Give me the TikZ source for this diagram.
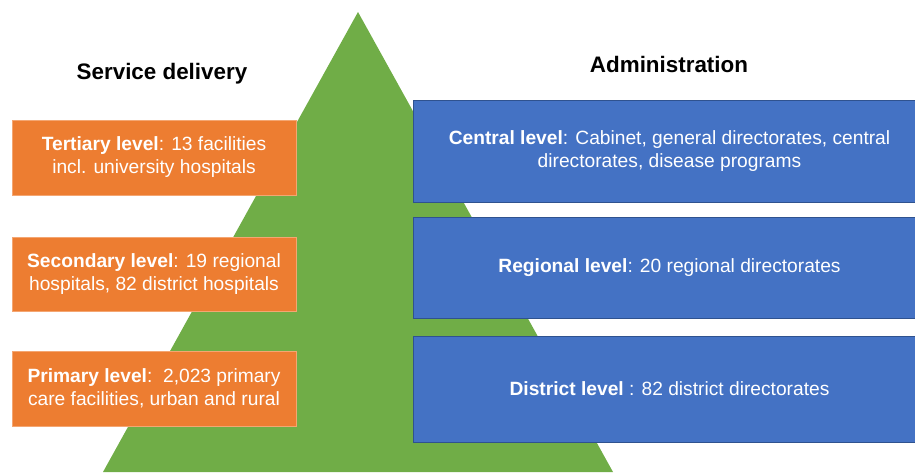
\documentclass[tikz,border=0pt]{standalone}
\usepackage{fontspec}
\setmainfont{Liberation Sans}
\definecolor{pyrgreen}{HTML}{70AD47}
\definecolor{svcorange}{HTML}{ED7D31}
\definecolor{svcedge}{HTML}{F4A672}
\definecolor{adminblue}{HTML}{4472C4}
\definecolor{adminedge}{HTML}{2F528F}
\begin{document}
\begin{tikzpicture}[x=1pt,y=-1pt,
  svcbox/.style={fill=svcorange, draw=svcedge, line width=0.8pt,
    minimum width=284pt, text=white, align=center, inner sep=0pt,
    font=\fontsize{19.2}{23}\selectfont},
  admbox/.style={fill=adminblue, draw=adminedge, line width=1pt,
    minimum width=513pt, text=white, align=center, inner sep=0pt,
    font=\fontsize{19.2}{23}\selectfont},
  heading/.style={font=\fontsize{22.4}{26}\selectfont\bfseries, inner sep=0pt}]
\useasboundingbox (0,0) rectangle (915,472);
\clip (0,0) rectangle (915,472);

% pyramid in the background
\fill[pyrgreen] (358,12) -- (613,472) -- (103,472) -- cycle;

% column headings
\node[heading] (svchead) at (162,74) {Service delivery};
\node[heading] (admhead) at (669,64) {Administration};

% service delivery levels
\node[svcbox, minimum height=75pt] (tertiary) at (154,157.5)
  {\textbf{Tertiary level}: 13 facilities\\incl. university hospitals};
\node[svcbox, minimum height=74pt] (secondary) at (154,274)
  {\textbf{Secondary level}: 19 regional\\hospitals, 82 district hospitals};
\node[svcbox, minimum height=75pt] (primary) at (154,388.5)
  {\textbf{Primary level}:\ \ 2,023 primary\\care facilities, urban and rural};

% administration levels (they run on past the right edge)
\node[admbox, minimum height=102pt] (central) at (669.5,151)
  {\textbf{Central level}: Cabinet, general directorates, central\\directorates, disease programs};
\node[admbox, minimum height=101pt] (regional) at (669.5,267.5)
  {\textbf{Regional level}: 20 regional directorates};
\node[admbox, minimum height=106pt] (district) at (669.5,389)
  {\textbf{District level} : 82 district directorates};
\end{tikzpicture}
\end{document}
